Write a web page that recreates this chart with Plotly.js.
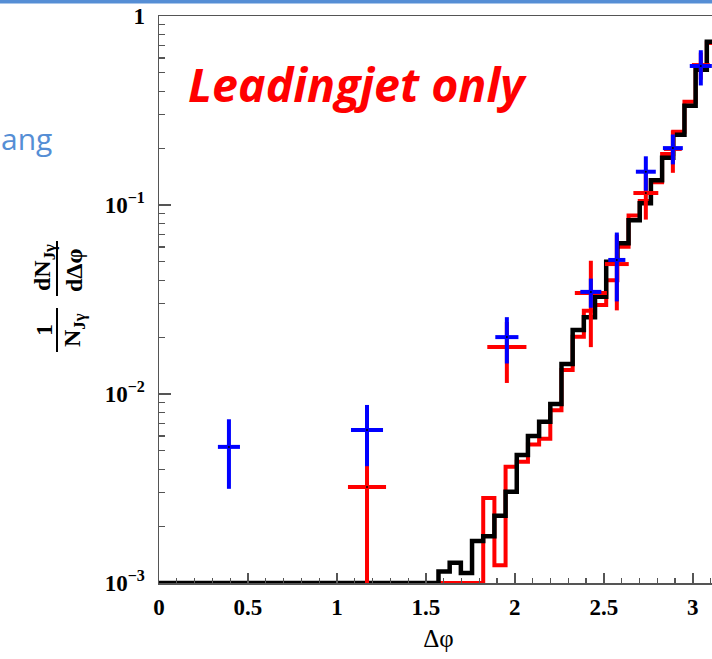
<!DOCTYPE html>
<html>
<head>
<meta charset="utf-8">
<script src="https://cdn.plot.ly/plotly-3.0.1.min.js"></script>
<style>
  html, body { margin: 0; padding: 0; background: #fff; overflow: hidden; }
  #chart { width: 720px; height: 659px; }
</style>
</head>
<body>
<div id="chart"></div>
<script>
// Δφ distribution, 50 equal bins from 0 to π
const NBINS = 50;
const PHI_MAX = Math.PI;

// Simulation histogram (black)
const histBlack = [
  0, 0, 0, 0, 0, 0, 0, 0, 0, 0,
  0, 0, 0, 0, 0, 0, 0, 0, 0, 0,
  0, 0, 0, 0, 0, 0.00115, 0.00128, 0.00113, 0.00167, 0.00177,
  0.00227, 0.00304, 0.00475, 0.0060, 0.00713, 0.00885, 0.01442, 0.0218, 0.0255, 0.0327,
  0.0501, 0.0627, 0.083, 0.102, 0.135, 0.178, 0.235, 0.335, 0.52, 0.73
];

// Second histogram (red)
const histRed = [
  0, 0, 0, 0, 0, 0, 0, 0, 0, 0,
  0, 0, 0, 0, 0, 0, 0, 0, 0, 0,
  0, 0, 0, 0, 0, 0, 0, 0, 0, 0.00282,
  0.00124, 0.00412, 0.00438, 0.0054, 0.0058, 0.0082, 0.0134, 0.0201, 0.0276, 0.0296,
  0.040, 0.0602, 0.088, 0.105, 0.132, 0.186, 0.244, 0.352, 0.53, 0.72
];

// Measured points (blue)
const blueX    = [0.393, 1.169, 1.955, 2.427, 2.573, 2.736, 2.888, 3.045];
const blueY    = [0.00525, 0.00645, 0.0200, 0.0347, 0.0512, 0.150, 0.200, 0.544];
const blueErrY = [0.0021, 0.0023, 0.0055, 0.0061, 0.0203, 0.031, 0.036, 0.115];
const blueErrX = [0.062, 0.090, 0.065, 0.059, 0.048, 0.056, 0.056, 0.062];

// Measured points (red)
const redX    = [1.169, 1.955, 2.427, 2.573, 2.736, 2.888, 3.045];
const redY    = [0.00322, 0.01774, 0.0342, 0.0487, 0.1157, 0.198, 0.55];
const redErrY = [0.0033, 0.0063, 0.0165, 0.021, 0.032, 0.050, 0.09];
const redErrX = [0.107, 0.110, 0.090, 0.067, 0.070, 0.050, 0.050];

const xTickVals   = [0, 0.5, 1, 1.5, 2, 2.5, 3];
const xTickLabels = ['0', '0.5', '1', '1.5', '2', '2.5', '3'];
const yTickVals   = [0.001, 0.01, 0.1, 1];
const yTickLabels = ['10<sup>−3</sup>', '10<sup>−2</sup>', '10<sup>−1</sup>', '1'];

// empty bins sit on the bottom of the log axis
const Y_FLOOR = 1e-3;

function stepTrace(values, color, width) {
  const w = PHI_MAX / NBINS;
  const xs = [], ys = [];
  values.forEach((v, i) => { xs.push(i * w); ys.push(Math.max(v, Y_FLOOR)); });
  xs.push(NBINS * w);
  ys.push(Math.max(values[values.length - 1], Y_FLOOR));
  return {
    x: xs, y: ys, type: 'scatter', mode: 'lines',
    line: { shape: 'hv', color: color, width: width },
    hoverinfo: 'skip', showlegend: false
  };
}

function pointTrace(x, y, ex, ey, color) {
  return {
    x: x, y: y, type: 'scatter', mode: 'markers',
    marker: { size: 2, color: '#000' },
    error_y: { type: 'data', array: ey, symmetric: true, color: color, thickness: 4, width: 0 },
    error_x: { type: 'data', array: ex, symmetric: true, color: color, thickness: 4, width: 0 },
    showlegend: false
  };
}

// minor log ticks at 2..9 of every decade
const yMinorVals = [];
for (let d = -3; d < 0; d++) {
  for (let k = 2; k <= 9; k++) yMinorVals.push(k * Math.pow(10, d));
}

// plot frame in pixels: x 159..718, y 16..583
const L = 159, R = 718, T = 16, B = 583;
const px = v => (v - L) / (R - L);
const py = v => (B - v) / (B - T);

const serif = 'Liberation Serif, Times New Roman, serif';
const axisColor = '#555';

const titleFont = { family: serif, size: 24, weight: 'bold', color: '#000' };

const layout = {
  width: 720, height: 659,
  margin: { l: L, r: 720 - R, t: T, b: 659 - B },
  paper_bgcolor: '#fff', plot_bgcolor: '#fff',
  showlegend: false,
  xaxis: {
    range: [0, PHI_MAX],
    tickmode: 'array', tickvals: xTickVals, ticktext: xTickLabels,
    ticks: 'inside', ticklen: 10, tickwidth: 1.5, tickcolor: axisColor,
    minor: { tickmode: 'linear', tick0: 0, dtick: 0.1, ticks: 'inside', ticklen: 5, tickwidth: 1.2, tickcolor: axisColor, showgrid: false },
    showline: true, linecolor: axisColor, linewidth: 1.5, mirror: true,
    showgrid: false, zeroline: false,
    tickfont: { family: serif, size: 23, weight: 'bold', color: '#000' },
    ticklabelstandoff: 3,
    title: { text: 'Δφ', font: { family: serif, size: 25, color: '#000' }, standoff: 10 }
  },
  yaxis: {
    type: 'log', range: [-3, 0],
    tickmode: 'array', tickvals: yTickVals, ticktext: yTickLabels,
    ticks: 'inside', ticklen: 12, tickwidth: 1.5, tickcolor: axisColor,
    minor: { tickmode: 'array', tickvals: yMinorVals, ticks: 'inside', ticklen: 6, tickwidth: 1.2, tickcolor: axisColor, showgrid: false },
    showline: true, linecolor: axisColor, linewidth: 1.5, mirror: true,
    showgrid: false, zeroline: false,
    tickfont: { family: serif, size: 23, weight: 'bold', color: '#000' },
    ticklabelstandoff: 8
  },
  shapes: [
    // slide header band
    { type: 'rect', xref: 'paper', yref: 'paper', x0: px(0), x1: px(720), y0: py(3.5), y1: py(0),
      fillcolor: '#558ED5', line: { width: 0 }, layer: 'above' },
    // fraction bars of the y title
    { type: 'line', xref: 'paper', yref: 'paper', x0: px(57), x1: px(57), y0: py(308), y1: py(352),
      line: { color: '#000', width: 2 } },
    { type: 'line', xref: 'paper', yref: 'paper', x0: px(57), x1: px(57), y0: py(241), y1: py(296),
      line: { color: '#000', width: 2 } }
  ],
  annotations: [
    { text: 'ang', xref: 'paper', yref: 'paper', x: px(54), y: py(138), xanchor: 'right', yanchor: 'middle',
      showarrow: false, font: { family: 'Open Sans, sans-serif', size: 30, color: '#558ED5' } },
    { text: 'Leadingjet only', xref: 'paper', yref: 'paper', x: px(186), y: py(84), xanchor: 'left', yanchor: 'middle',
      showarrow: false, font: { family: 'Open Sans, sans-serif', size: 46.5, weight: 'bold', style: 'italic', color: '#FF0000' } },
    { text: '1', xref: 'paper', yref: 'paper', x: px(44), y: py(330), xanchor: 'center', yanchor: 'middle',
      textangle: -90, showarrow: false, font: titleFont },
    { text: 'N<sub>Jγ</sub>', xref: 'paper', yref: 'paper', x: px(74), y: py(330), xanchor: 'center', yanchor: 'middle',
      textangle: -90, showarrow: false, font: titleFont },
    { text: 'dN<sub>Jγ</sub>', xref: 'paper', yref: 'paper', x: px(44), y: py(268), xanchor: 'center', yanchor: 'middle',
      textangle: -90, showarrow: false, font: titleFont },
    { text: 'dΔφ', xref: 'paper', yref: 'paper', x: px(74), y: py(271), xanchor: 'center', yanchor: 'middle',
      textangle: -90, showarrow: false, font: titleFont }
  ]
};

const data = [
  stepTrace(histRed, '#FF0000', 4),
  stepTrace(histBlack, '#000000', 4.5),
  pointTrace(redX, redY, redErrX, redErrY, '#FF0000'),
  pointTrace(blueX, blueY, blueErrX, blueErrY, '#0000FF')
];

Plotly.newPlot('chart', data, layout, { displayModeBar: false, staticPlot: true });
</script>
</body>
</html>
